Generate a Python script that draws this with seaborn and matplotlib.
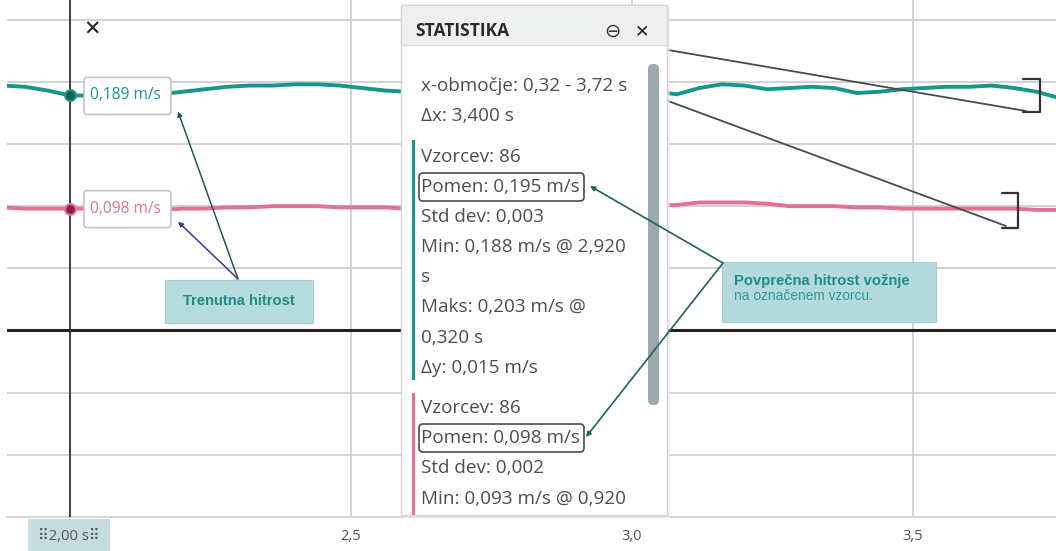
import numpy as np
import pandas as pd
import matplotlib
matplotlib.use("Agg")
import matplotlib.pyplot as plt
import seaborn as sns
from matplotlib.patches import FancyBboxPatch, Rectangle

# --- measured speed samples (0.04 s step) ---
time_s = [1.88, 1.92, 1.96, 2.00, 2.04, 2.08, 2.12, 2.16, 2.20, 2.24, 2.28, 2.32,
          2.36, 2.40, 2.44, 2.48, 2.52, 2.56, 2.60, 2.64, 2.68, 2.72, 2.76, 2.80,
          2.84, 2.88, 2.92, 2.96, 3.00, 3.04, 3.08, 3.12, 3.16, 3.20, 3.24, 3.28,
          3.32, 3.36, 3.40, 3.44, 3.48, 3.52, 3.56, 3.60, 3.64, 3.68, 3.72, 3.76]
speed_a = [0.197, 0.196, 0.193, 0.189, 0.189, 0.190, 0.190, 0.190, 0.192, 0.194, 0.196, 0.197,
           0.197, 0.198, 0.198, 0.197, 0.195, 0.193, 0.192, 0.194, 0.196, 0.195, 0.193, 0.194,
           0.196, 0.194, 0.188, 0.191, 0.193, 0.192, 0.190, 0.195, 0.198, 0.197, 0.194, 0.195,
           0.196, 0.195, 0.191, 0.192, 0.194, 0.195, 0.196, 0.196, 0.197, 0.195, 0.192, 0.187]
speed_b = [0.099, 0.098, 0.098, 0.098, 0.098, 0.097, 0.097, 0.097, 0.098, 0.098, 0.099, 0.099,
           0.100, 0.100, 0.100, 0.099, 0.099, 0.099, 0.098, 0.097, 0.096, 0.097, 0.098, 0.099,
           0.098, 0.097, 0.098, 0.099, 0.099, 0.100, 0.101, 0.103, 0.103, 0.103, 0.102, 0.100,
           0.100, 0.100, 0.099, 0.099, 0.098, 0.098, 0.098, 0.098, 0.098, 0.098, 0.097, 0.097]

x_ticks = [2.0, 2.5, 3.0, 3.5]
x_tick_labels = ["", "2,5", "3,0", "3,5"]
y_grid = [-0.15, -0.10, -0.05, 0.0, 0.05, 0.10, 0.15, 0.20, 0.25]
cursor_t = 2.00
cursor_label = "⠿2,00 s⠿"

stats_title = "STATISTIKA"
stats_head = ["x-območje: 0,32 - 3,72 s", "Δx: 3,400 s"]
stats_a = ["Vzorcev: 86", "Pomen: 0,195 m/s", "Std dev: 0,003", "Min: 0,188 m/s @ 2,920",
           "s", "Maks: 0,203 m/s @", "0,320 s", "Δy: 0,015 m/s"]
stats_b = ["Vzorcev: 86", "Pomen: 0,098 m/s", "Std dev: 0,002", "Min: 0,093 m/s @ 0,920"]

note_current = "Trenutna hitrost"
note_mean_bold = "Povprečna hitrost vožnje"
note_mean_rest = "na označenem vzorcu."

TEAL = "#17978b"
PINK = "#e4718f"
GRID = "#d2d2d2"
W, H = 1056, 551

sns.set_theme(style="white")
plt.rcParams["font.family"] = ["Open Sans", "DejaVu Sans"]

fig = plt.figure(figsize=(W / 100, H / 100), dpi=100)
fig.patch.set_facecolor("white")
ax = fig.add_axes([7 / W, 34 / H, (W - 7) / W, 517 / H])

df = pd.DataFrame({"t": time_s + time_s,
                   "v": speed_a + speed_b,
                   "kanal": ["a"] * len(time_s) + ["b"] * len(time_s)})
sns.lineplot(data=df, x="t", y="v", hue="kanal", palette={"a": TEAL, "b": PINK},
             linewidth=2.8, legend=False, ax=ax, zorder=3)

ax.set_xlim(1.8879, 3.7544)
ax.set_ylim(-0.1468, 0.2658)
ax.set_xticks(x_ticks)
ax.set_xticklabels(x_tick_labels)
ax.set_yticks(y_grid)
ax.set_yticklabels([])
ax.tick_params(axis="both", length=0, labelsize=10.5, colors="#505050", pad=9)
ax.grid(True, color=GRID, linewidth=1.4)
ax.set_xlabel("")
ax.set_ylabel("")
for s in ["top", "left", "right"]:
    ax.spines[s].set_visible(False)
ax.spines["bottom"].set_color("#d8d8d8")
ax.spines["bottom"].set_linewidth(1.4)
ax.axhline(0.0, color="#222222", linewidth=2.2, zorder=2)
ax.axvline(cursor_t, color="#333333", linewidth=1.3, zorder=4)

# cursor readings taken from the series
i0 = time_s.index(cursor_t)
va, vb = speed_a[i0], speed_b[i0]
ax.scatter([cursor_t], [va], s=60, color="#0b5c54", edgecolor=TEAL, linewidth=1.5, zorder=6)
ax.scatter([cursor_t], [vb], s=60, color="#8a1d3d", edgecolor=PINK, linewidth=1.5, zorder=6)

# overlay in pixel coordinates for the UI parts
ov = fig.add_axes([0, 0, 1, 1], zorder=5)
ov.set_xlim(0, W)
ov.set_ylim(H, 0)
ov.axis("off")
ov.patch.set_alpha(0)


def to_px(x, y):
    dx, dy = ax.transData.transform((x, y))
    return dx, H - dy


def fmt(v):
    return f"{v:.3f}".replace(".", ",") + " m/s"


cx, ya = to_px(cursor_t, va)
_, yb = to_px(cursor_t, vb)

# reading boxes next to the cursor
for yy, val, col in [(ya, va, TEAL), (yb, vb, PINK)]:
    ov.add_patch(FancyBboxPatch((cx + 14, yy - 18), 87, 37,
                                boxstyle="round,pad=0,rounding_size=3",
                                facecolor="white", edgecolor="#c4c4c4", linewidth=1.2, zorder=7))
    ov.text(cx + 20, yy, fmt(val), color=col, fontsize=11.2, va="center", ha="left", zorder=8)

ov.text(cx + 22, 30, "✕", fontsize=15, fontweight="bold", color="#222222",
        ha="center", va="center", family="DejaVu Sans")

# cursor time label
ov.add_patch(Rectangle((cx - 42, 519), 82, 32, facecolor="#c6dce1", edgecolor="none", zorder=6))
ov.text(cx - 1, 537, cursor_label, fontsize=10.6, color="#555555", ha="center", va="center",
        family=["Open Sans", "DejaVu Sans"], zorder=7)

# "current speed" note
ov.add_patch(Rectangle((165, 280), 148, 43, facecolor="#b7dcdd", edgecolor="#a9cfd0",
                       linewidth=0.8, zorder=6))
ov.text(239, 301, note_current, fontsize=10.6, fontweight="bold", color="#1f8c86",
        family="Liberation Sans", ha="center", va="center", zorder=7)
ov.annotate("", xy=(cx + 108, ya + 16), xytext=(238, 279),
            arrowprops=dict(arrowstyle="-|>", color="#1e5a55", lw=1.1, mutation_scale=7,
                            shrinkA=0, shrinkB=0), zorder=7)
ov.annotate("", xy=(cx + 108, yb + 13), xytext=(238, 279),
            arrowprops=dict(arrowstyle="-|>", color="#3b3a86", lw=1.1, mutation_scale=7,
                            shrinkA=0, shrinkB=0), zorder=7)

# range brackets at the right
ov.plot([668, 1026], [50, 111], color="#4a4a4a", lw=1.3, zorder=6)
ov.plot([1023, 1040, 1040, 1023], [79, 79, 112, 112], color="#333333", lw=1.6, zorder=6)
ov.plot([668, 1006], [101, 226], color="#4a4a4a", lw=1.3, zorder=6)
ov.plot([1002, 1018, 1018, 1002], [193, 193, 228, 228], color="#333333", lw=1.6, zorder=6)

# statistics panel
ov.add_patch(Rectangle((404, 7), 266, 511, facecolor="#e9e9e9", edgecolor="none", alpha=0.6, zorder=8))
ov.add_patch(Rectangle((401, 5), 266, 510, facecolor="white", edgecolor="#d6d6d6",
                       linewidth=1.0, zorder=9))
ov.add_patch(Rectangle((401, 5), 266, 40, facecolor="#eef0f0", edgecolor="#d6d6d6",
                       linewidth=1.0, zorder=10))
ov.text(415, 31, stats_title, fontsize=12.5, fontweight="bold", color="#2b2b2b",
        ha="left", va="center", zorder=11)
ov.text(612, 31, "⊖", fontsize=14, color="#333333", ha="center", va="center",
        family="DejaVu Sans", zorder=11)
ov.text(642, 31, "✕", fontsize=12.5, fontweight="bold", color="#222222", ha="center",
        va="center", family="DejaVu Sans", zorder=11)
ov.add_patch(FancyBboxPatch((648, 64), 11, 341, boxstyle="round,pad=0,rounding_size=5",
                            facecolor="#9ea9ad", edgecolor="none", zorder=11))
ov.add_patch(Rectangle((411.5, 140), 3, 240, facecolor=TEAL, edgecolor="none", zorder=11))
ov.add_patch(Rectangle((411.5, 393), 3, 122, facecolor=PINK, edgecolor="none", zorder=11))

TXT = "#4d4d4d"
FS = 13.6
for k, line in enumerate(stats_head):
    ov.text(421, 86 + 30 * k, line, fontsize=FS, color=TXT, ha="left", va="center", zorder=11)
for k, line in enumerate(stats_a):
    ov.text(421, 157 + 30.1 * k, line, fontsize=FS, color=TXT, ha="left", va="center", zorder=11)
for k, line in enumerate(stats_b):
    ov.text(421, 408 + 30.2 * k, line, fontsize=FS, color=TXT, ha="left", va="center", zorder=11)

for y0 in (173, 424):
    ov.add_patch(FancyBboxPatch((419, y0), 165, 28, boxstyle="round,pad=0,rounding_size=4",
                                facecolor="none", edgecolor="#4a4a4a", linewidth=1.2, zorder=12))

# "mean speed" note
ov.add_patch(Rectangle((722, 262), 214, 60, facecolor="#b4dadd", edgecolor="#a5cdd0",
                       linewidth=0.8, zorder=6))
ov.text(734, 281, note_mean_bold, fontsize=10.6, fontweight="bold", color="#1f8c86",
        family="Liberation Sans", ha="left", va="center", zorder=7)
ov.text(734, 296, note_mean_rest, fontsize=9.9, color="#2a9a93",
        family="Liberation Sans", ha="left", va="center", zorder=7)
ov.annotate("", xy=(590, 186), xytext=(723, 263),
            arrowprops=dict(arrowstyle="-|>", color="#1e625c", lw=1.2, mutation_scale=7,
                            shrinkA=0, shrinkB=0), zorder=13)
ov.annotate("", xy=(586, 437), xytext=(723, 263),
            arrowprops=dict(arrowstyle="-|>", color="#1e625c", lw=1.2, mutation_scale=7,
                            shrinkA=0, shrinkB=0), zorder=13)

fig.savefig("out.png", dpi=100)
